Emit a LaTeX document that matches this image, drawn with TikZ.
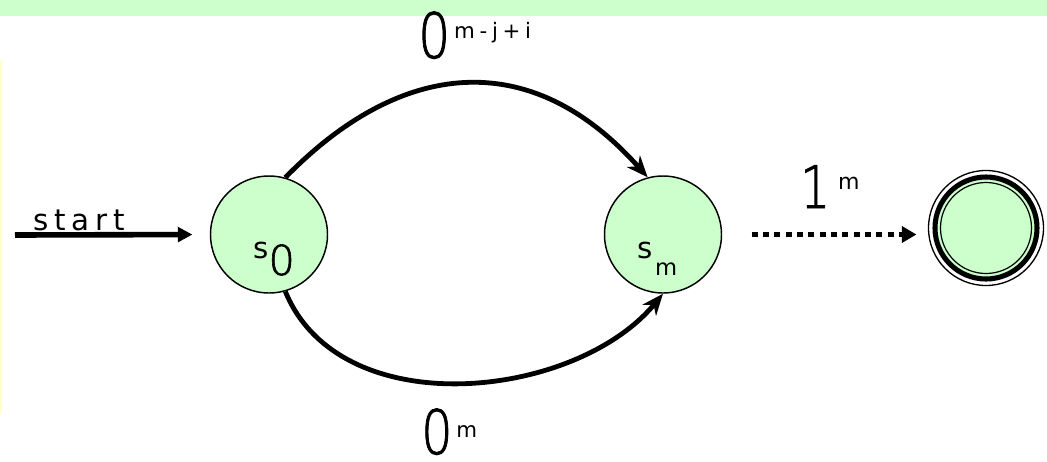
\documentclass[tikz,border=0pt]{standalone}
\usepackage{fontspec}
\setmainfont{DejaVu Sans}
\newfontfamily\thinfont[FakeBold=1.5]{DejaVu Sans ExtraLight}
\usetikzlibrary{arrows.meta}
\definecolor{stgreen}{RGB}{204,255,204}
\definecolor{rimyellow}{RGB}{255,255,205}
\newcommand{\bigdigit}[2]{{\fontsize{#1}{#1}\thinfont\scalebox{0.8}[1]{#2}}}
\newcommand{\smalltxt}[3]{\raisebox{#1}{\fontsize{#2}{#2}\selectfont #3}}
\tikzset{px/.style={x=0.75pt,y=-0.75pt},
  state/.style={circle,draw,line width=1.1pt,fill=stgreen,minimum size=87.75pt,inner sep=0pt},
  accept/.style={circle,draw,line width=3.8pt,fill=stgreen,minimum size=76.5pt,inner sep=0pt},
  edge/.style={line width=3.6pt,-{Stealth[length=16pt,width=13pt,inset=5pt]}},
  lbl/.style={inner sep=0pt,anchor=base west}}

\begin{document}
\begin{tikzpicture}[px]
    \useasboundingbox (0,0) rectangle (1047,461);
    \fill[stgreen] (0,0) rectangle (1047,16);
    \fill[rimyellow] (0,60) rectangle (2,413);
    % states
    \node[state] (s0) at (269,234.5) {};
    \node[state] (sm) at (663,234.5) {};
    \node[accept] (fin) at (986,228) {};
    \draw[line width=1pt] (fin.center) circle (57.5);
    \draw[line width=0.9pt] (fin.center) circle (45.5);
    \node[lbl] (s0lab) at (253,258) {{\fontsize{22}{22}\selectfont s}\smalltxt{-12.75pt}{31}{\thinfont 0}};
    \node[lbl] (smlab) at (637,258) {{\fontsize{22}{22}\selectfont s}\hspace{2pt}\smalltxt{-12.75pt}{17}{m}};
    % start
    \coordinate (init) at (15,235);
    \draw[line width=4.2pt,-{Triangle[length=11pt,width=11pt]},shorten >=13pt] (init) -- (s0.west);
    \node[lbl] (startlab) at (33,230) {\fontsize{22}{22}\selectfont\addfontfeatures{LetterSpace=20}start};
    % transitions
    \draw[edge] (s0.74) .. controls (400,60) and (530,45) .. (sm.105);
    \draw[edge] (s0.-74) .. controls (340,425) and (575,400) .. (sm.-90);
    \draw[line width=4pt,dash pattern=on 4.5pt off 4pt,-{Triangle[length=11pt,width=12pt]},shorten <=22pt,shorten >=12pt] (sm.east) -- (sm.east -| fin.west);
    % labels
    \node[lbl] (toplab) at (418,58) {\bigdigit{47}{0}\hspace{3pt}\smalltxt{15pt}{16}{\addfontfeatures{LetterSpace=22}m-j+i}};
    \node[lbl] (botlab) at (421,454) {\bigdigit{46}{0}\hspace{3pt}\smalltxt{12.75pt}{16}{m}};
    \node[lbl] (onelab) at (800,208) {\bigdigit{44}{1}\hspace{6pt}\smalltxt{14pt}{16.5}{m}};
\end{tikzpicture}
\end{document}
